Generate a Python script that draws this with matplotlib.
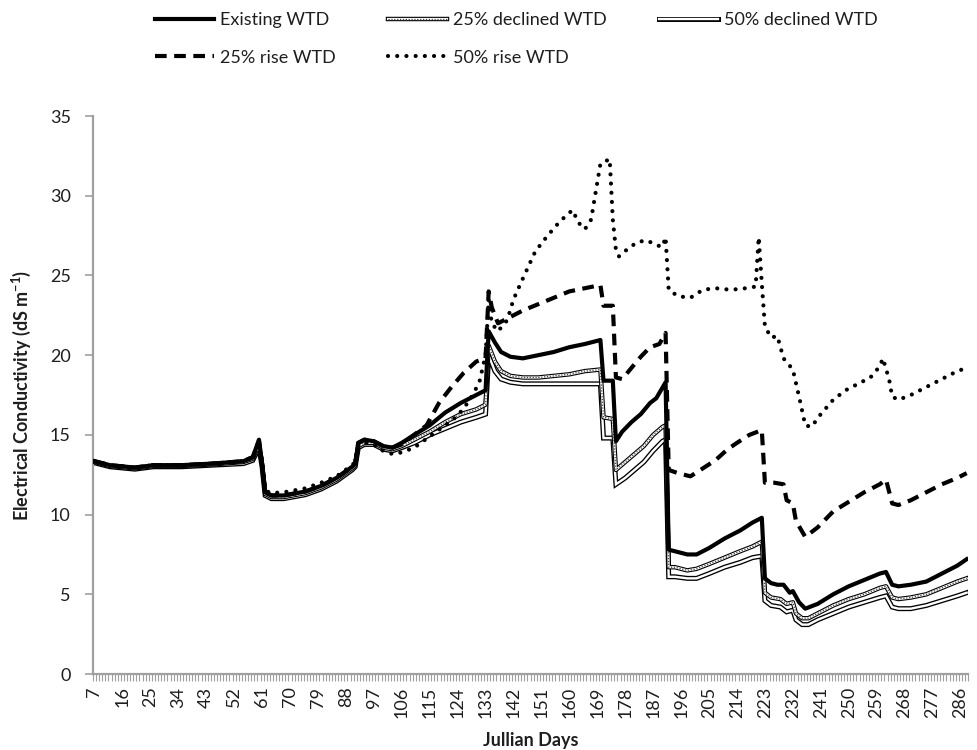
import matplotlib
matplotlib.use('Agg')
import matplotlib.pyplot as plt
from matplotlib.lines import Line2D
from matplotlib.ticker import MultipleLocator, FixedLocator

plt.rcParams['font.family'] = ['Lato', 'DejaVu Sans']
plt.rcParams['mathtext.fontset'] = 'custom'
plt.rcParams['mathtext.rm'] = 'Lato'
plt.rcParams['mathtext.bf'] = 'Lato:bold'

# Simulated EC (dS/m) against Julian day for each water table depth scenario
days_existing = [7, 12, 20, 26, 35, 45, 55, 58, 60, 61, 62, 64, 68, 75, 80, 85, 90, 91, 92, 94, 97, 100,
                 103, 106, 110, 115, 120, 125, 130, 133, 134, 136, 138, 141, 145, 150, 155, 160, 165, 170,
                 171, 174, 175, 177, 180, 183, 186, 188, 191, 192, 194, 198, 201, 205, 210, 215, 219, 222,
                 223, 225, 227, 229, 231, 232, 234, 236, 240, 245, 250, 255, 260, 262, 264, 266, 270, 275,
                 280, 285, 288]
ec_existing = [13.35, 13.1, 12.95, 13.1, 13.1, 13.2, 13.35, 13.6, 14.7, 13.2, 11.4, 11.2, 11.2, 11.45, 11.8,
               12.3, 13.0, 13.2, 14.5, 14.7, 14.6, 14.3, 14.2, 14.5, 15.0, 15.6, 16.4, 17.0, 17.5, 17.8,
               21.5, 20.8, 20.2, 19.9, 19.8, 20.0, 20.2, 20.5, 20.7, 20.95, 18.4, 18.4, 14.6, 15.2, 15.8,
               16.3, 17.0, 17.3, 18.3, 7.8, 7.7, 7.5, 7.5, 7.9, 8.5, 9.0, 9.5, 9.8, 6.0, 5.7, 5.6, 5.6, 5.1,
               5.2, 4.5, 4.1, 4.4, 5.0, 5.5, 5.9, 6.3, 6.4, 5.6, 5.5, 5.6, 5.8, 6.3, 6.8, 7.2]

days_dec = [7, 12, 20, 26, 35, 45, 55, 58, 60, 61, 62, 64, 68, 75, 80, 85, 90, 91, 92, 94, 97, 100,
            103, 106, 110, 115, 120, 125, 130, 133, 134, 136, 138, 141, 145, 150, 155, 160, 165, 170,
            171, 174, 175, 178, 181, 184, 187, 190, 191, 192, 194, 198, 201, 205, 210, 215, 219, 222,
            223, 225, 228, 230, 232, 233, 235, 237, 240, 245, 250, 255, 260, 262, 264, 266, 270, 275,
            280, 285, 288]
ec_dec25 = [13.3, 13.05, 12.9, 13.05, 13.05, 13.15, 13.3, 13.5, 14.4, 13.1, 11.3, 11.1, 11.1, 11.35, 11.7,
            12.2, 12.9, 13.1, 14.3, 14.5, 14.5, 14.2, 14.1, 14.3, 14.7, 15.2, 15.8, 16.3, 16.6, 16.9,
            20.6, 19.6, 19.0, 18.7, 18.6, 18.6, 18.7, 18.8, 19.0, 19.1, 16.1, 16.0, 12.8, 13.3, 13.8,
            14.3, 15.0, 15.5, 15.6, 6.7, 6.7, 6.5, 6.6, 6.9, 7.3, 7.7, 8.0, 8.3, 5.1, 4.8, 4.7, 4.4,
            4.5, 3.8, 3.5, 3.5, 3.8, 4.3, 4.7, 5.0, 5.4, 5.5, 4.8, 4.7, 4.8, 5.0, 5.4, 5.8, 6.0]
ec_dec50 = [13.25, 13.0, 12.85, 13.0, 13.0, 13.1, 13.2, 13.4, 14.2, 13.0, 11.2, 11.0, 11.0, 11.25, 11.6,
            12.1, 12.8, 13.0, 14.2, 14.4, 14.4, 14.1, 14.0, 14.2, 14.5, 15.0, 15.4, 15.8, 16.1, 16.3,
            20.0, 19.0, 18.5, 18.3, 18.2, 18.2, 18.2, 18.2, 18.2, 18.2, 14.8, 14.8, 11.9, 12.3, 12.8,
            13.3, 14.0, 14.6, 14.7, 6.1, 6.1, 6.0, 6.0, 6.3, 6.7, 7.0, 7.3, 7.4, 4.6, 4.3, 4.2, 3.9,
            4.0, 3.4, 3.1, 3.1, 3.4, 3.8, 4.2, 4.5, 4.8, 4.9, 4.2, 4.1, 4.1, 4.3, 4.6, 4.9, 5.1]

days_rise25 = [7, 12, 20, 26, 35, 45, 55, 58, 60, 61, 62, 64, 68, 75, 80, 85, 90, 91, 92, 94, 97, 100,
               103, 106, 110, 114, 118, 122, 126, 130, 133, 134, 135, 137, 140, 145, 150, 155, 160, 165,
               170, 171, 174, 175, 177, 180, 183, 186, 189, 191, 192, 195, 199, 203, 207, 211, 214, 218,
               222, 223, 226, 229, 230, 232, 233, 236, 240, 245, 250, 255, 260, 262, 264, 266, 270, 275,
               280, 285, 288]
ec_rise25 = [13.35, 13.1, 12.95, 13.1, 13.1, 13.2, 13.35, 13.6, 14.6, 13.2, 11.4, 11.2, 11.2, 11.45, 11.8,
             12.3, 13.0, 13.2, 14.5, 14.7, 14.6, 14.3, 14.2, 14.4, 15.0, 15.6, 17.0, 18.0, 18.9, 19.6,
             19.8, 24.0, 23.0, 22.0, 22.3, 22.8, 23.2, 23.6, 24.0, 24.2, 24.4, 23.1, 23.1, 18.6, 18.5,
             19.2, 19.9, 20.5, 20.7, 21.4, 12.8, 12.6, 12.4, 12.9, 13.4, 14.1, 14.5, 15.0, 15.3, 12.0,
             12.0, 11.9, 10.9, 10.7, 9.6, 8.6, 9.2, 10.2, 10.8, 11.4, 11.9, 12.2, 10.7, 10.6, 10.9, 11.4,
             11.9, 12.3, 12.6]

days_rise50 = [7, 12, 20, 26, 35, 45, 55, 58, 60, 61, 62, 64, 68, 75, 80, 85, 90, 91, 92, 94, 97, 100,
               103, 106, 110, 115, 120, 124, 128, 131, 133, 134, 135, 137, 140, 142, 145, 149, 153, 157,
               161, 163, 165, 167, 170, 173, 174, 175, 176, 179, 182, 185, 188, 190, 191, 192, 195, 199,
               203, 207, 212, 217, 220, 221, 222, 223, 225, 227, 229, 232, 234, 236, 238, 241, 245, 249,
               253, 257, 260, 261, 263, 264, 266, 270, 275, 280, 285, 288]
ec_rise50 = [13.35, 13.1, 12.95, 13.1, 13.1, 13.2, 13.35, 13.6, 14.6, 13.3, 11.5, 11.35, 11.4, 11.65, 12.0,
             12.4, 13.1, 13.3, 14.3, 14.5, 14.4, 14.0, 13.8, 13.9, 14.2, 14.9, 15.6, 16.2, 17.2, 18.3,
             20.0, 23.5, 22.0, 21.5, 22.2, 23.5, 24.8, 26.5, 27.5, 28.4, 29.1, 28.3, 27.9, 28.5, 32.0,
             32.3, 28.5, 26.6, 26.2, 26.7, 27.1, 27.2, 26.9, 26.8, 27.4, 24.1, 23.7, 23.6, 24.1, 24.2,
             24.1, 24.2, 24.3, 27.4, 24.5, 21.8, 21.1, 21.2, 19.8, 19.1, 17.4, 15.6, 15.5, 16.3, 17.2,
             17.8, 18.2, 18.6, 19.3, 19.8, 18.5, 17.4, 17.2, 17.5, 18.0, 18.5, 19.0, 19.2]

x_tick_days = list(range(7, 289, 9))
y_ticks = [0, 5, 10, 15, 20, 25, 30, 35]

AXIS_GREY = '#a0a0a0'
TEXT = '#1e1e1e'

fig = plt.figure(figsize=(9.78, 7.5), dpi=100)
ax = fig.add_axes([0.095, 0.1013, 0.895, 0.7440])

# double outlined lines for the declined scenarios
ax.plot(days_dec, ec_dec50, color='black', lw=3.6, solid_joinstyle='miter', zorder=2)
ax.plot(days_dec, ec_dec50, color='white', lw=1.7, solid_joinstyle='miter', zorder=2)
ax.plot(days_dec, ec_dec25, color='black', lw=3.2, zorder=3)
ax.plot(days_dec, ec_dec25, color='white', lw=1.6, zorder=3)
ax.plot(days_dec, ec_dec25, color='#444444', lw=0.9, linestyle=(0, (1, 1.3)), zorder=3)

ax.plot(days_existing, ec_existing, color='black', lw=3.0, zorder=4)
ax.plot(days_rise25, ec_rise25, color='black', lw=3.0, linestyle=(0, (2.8, 1.8)), zorder=5)
ax.plot(days_rise50, ec_rise50, color='black', lw=3.0, linestyle=(0, (0.01, 2.2)),
        dash_capstyle='round', zorder=6)

ax.set_xlim(6.5, 288.5)
ax.set_ylim(0, 35)
ax.set_yticks(y_ticks)
ax.xaxis.set_major_locator(FixedLocator(x_tick_days))
ax.set_xticklabels([str(d) for d in x_tick_days], rotation=90, fontsize=13, color=TEXT)
ax.xaxis.set_minor_locator(MultipleLocator(1, offset=0.5))
ax.tick_params(axis='x', which='major', length=0, pad=9)
ax.tick_params(axis='x', which='minor', length=5, width=0.8, color=AXIS_GREY)
ax.tick_params(axis='y', which='major', length=6, width=1.2, color=AXIS_GREY, pad=10,
               labelsize=13, labelcolor=TEXT)

for side in ['top', 'right']:
    ax.spines[side].set_visible(False)
for side in ['left', 'bottom']:
    ax.spines[side].set_color(AXIS_GREY)
    ax.spines[side].set_linewidth(1.6)

ax.set_xlabel('Jullian Days', fontsize=13, fontweight='bold', color=TEXT, labelpad=10)
ax.set_ylabel(r'Electrical Conductivity (dS m$^{\mathbf{-1}}$)', fontsize=13, fontweight='bold',
              color=TEXT, labelpad=12)

# legend handles
h_existing = Line2D([], [], color='black', lw=3.0)
h_dec25 = (Line2D([], [], color='black', lw=3.2), Line2D([], [], color='white', lw=1.6),
           Line2D([], [], color='#444444', lw=0.9, linestyle=(0, (1, 1.3))))
h_dec50 = (Line2D([], [], color='black', lw=3.6), Line2D([], [], color='white', lw=1.7))
h_rise25 = Line2D([], [], color='black', lw=3.0, linestyle=(0, (2.8, 1.8)))
h_rise50 = Line2D([], [], color='black', lw=3.0, linestyle=(0, (0.01, 2.2)), dash_capstyle='round')

fig.legend([h_existing, h_rise25, h_dec25, h_rise50, h_dec50],
           ['Existing WTD', '25% rise WTD', '25% declined WTD', '50% rise WTD', '50% declined WTD'],
           ncol=3, loc='upper left', bbox_to_anchor=(0.158, 0.984), frameon=False,
           fontsize=13, handlelength=3.3, handletextpad=0.3, columnspacing=2.9,
           labelspacing=1.2, borderpad=0, borderaxespad=0, labelcolor=TEXT)

fig.savefig('out.png', dpi=100, facecolor='white')
